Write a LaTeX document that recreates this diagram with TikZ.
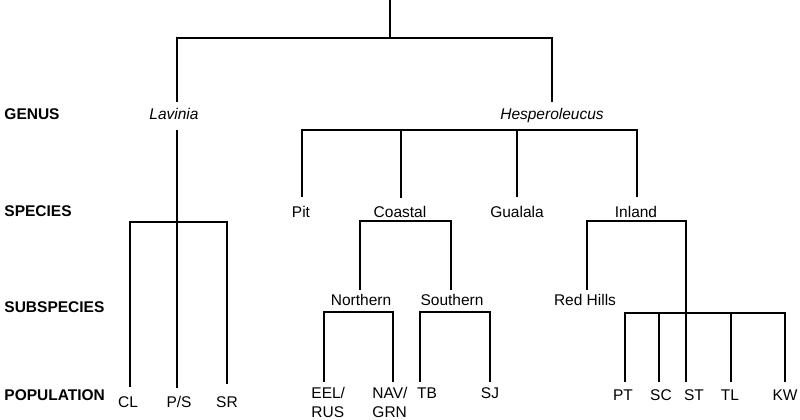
\documentclass[tikz,border=0pt]{standalone}
\usepackage{fontspec}
\setmainfont{Liberation Sans}
\begin{document}
\begin{tikzpicture}[x=1pt,y=-1pt,
  line width=2.9pt, line join=miter, line cap=butt,
  lbl/.style={font=\bfseries\fontsize{15.5}{19}\selectfont, anchor=base west, inner sep=0pt},
  tx/.style={font=\fontsize{15.5}{19}\selectfont, anchor=base, inner sep=0pt},
  gen/.style={tx, font=\itshape\fontsize{15.5}{19}\selectfont},
  twoline/.style={font=\fontsize{15.5}{19}\selectfont, anchor=north west, inner sep=0pt, align=left}]
\useasboundingbox (0,0) rectangle (800,420);

% level labels
\node[lbl] (genus)   at (3,119)   {GENUS};
\node[lbl] (species) at (3,216.5) {SPECIES};
\node[lbl] (subsp)   at (3,312.5) {SUBSPECIES};
\node[lbl] (popul)   at (3,400.5) {POPULATION};

% genus
\node[gen] (lav)  at (174,119) {Lavinia};
\node[gen] (hesp) at (552,119) {Hesperoleucus};
% species
\node[tx] (pit)     at (301,217) {Pit};
\node[tx] (coastal) at (400,217) {Coastal};
\node[tx] (gualala) at (517,217) {Gualala};
\node[tx] (inland)  at (636,217) {Inland};
% subspecies
\node[tx] (northern) at (361,305.5) {Northern};
\node[tx] (southern) at (452,305.5) {Southern};
\node[tx] (redhills) at (585,305.5) {Red Hills};
% populations
\node[tx] (cl) at (128,407.5) {CL};
\node[tx] (ps) at (179,407.5) {P/S};
\node[tx] (sr) at (227,407.5) {SR};
\node[twoline] (eel) at (310,386) {EEL/\\RUS};
\node[twoline] (nav) at (371,386) {NAV/\\GRN};
\node[tx] (tb) at (427,398.5) {TB};
\node[tx] (sj) at (490,398.5) {SJ};
\node[tx] (pt) at (623,400) {PT};
\node[tx] (sc) at (661,400) {SC};
\node[tx] (st) at (694,400) {ST};
\node[tx] (tl) at (730,400) {TL};
\node[tx] (kw) at (785,400) {KW};

% connector end points
\coordinate (rootTop) at (390,-2);
\coordinate (rootJ) at (390,38);
\coordinate (lavUp) at (177,102);
\coordinate (hespUp) at (552,102);
\coordinate (lavDown) at (177,130);
\coordinate (lavJ) at (177,222);
\coordinate (clUp) at (130,387);
\coordinate (psUp) at (177,388);
\coordinate (srUp) at (227,384);
\coordinate (hespJ) at (552,130);
\coordinate (pitUp) at (302,197);
\coordinate (coastalUp) at (401,198);
\coordinate (gualalaUp) at (517,197);
\coordinate (inlandUp) at (637,197);
\coordinate (coastalJ) at (400,221);
\coordinate (northernUp) at (360,290);
\coordinate (southernUp) at (451,290);
\coordinate (inlandJ) at (636,221);
\coordinate (redUp) at (587,290);
\coordinate (popJ) at (686,313);
\coordinate (northernJ) at (361,312);
\coordinate (southernJ) at (452,312);
\coordinate (eelUp) at (324,382);
\coordinate (navUp) at (393,382);
\coordinate (tbUp) at (420,382);
\coordinate (sjUp) at (490,382);
\coordinate (ptUp) at (625,382);
\coordinate (scUp) at (659,382);
\coordinate (stUp) at (686,382);
\coordinate (tlUp) at (731,382);
\coordinate (kwUp) at (785,382);

% root
\draw (rootTop) -- (rootJ);
\draw (lavUp) |- (rootJ) -| (hespUp);
% Lavinia
\draw (lavDown) -- (psUp);
\draw (clUp) |- (lavJ) -| (srUp);
% Hesperoleucus
\draw (pitUp) |- (hespJ) -| (inlandUp);
\draw (coastalUp) -- (coastalUp |- hespJ);
\draw (gualalaUp) -- (gualalaUp |- hespJ);
% Coastal
\draw (northernUp) |- (coastalJ) -| (southernUp);
\draw (eelUp) |- (northernJ) -| (navUp);
\draw (tbUp) |- (southernJ) -| (sjUp);
% Inland
\draw (redUp) |- (inlandJ) -| (popJ);
\draw (ptUp) |- (popJ) -| (kwUp);
\draw (scUp) -- (scUp |- popJ);
\draw (stUp) -- (popJ);
\draw (tlUp) -- (tlUp |- popJ);
\end{tikzpicture}
\end{document}
